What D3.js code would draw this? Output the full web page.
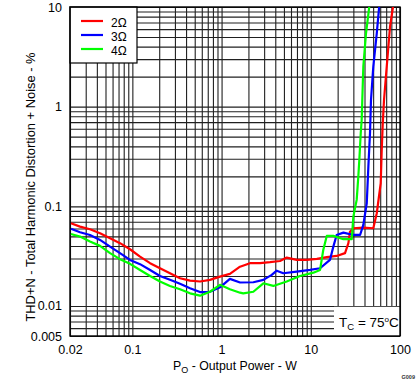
<!DOCTYPE html>
<html><head><meta charset="utf-8">
<script src="https://cdn.jsdelivr.net/npm/d3@7"></script>
<style>
body{margin:0;background:#fff;}
svg{display:block;font-family:"Liberation Sans",Arial,sans-serif;}
</style></head>
<body><svg id="c" width="419" height="382"></svg>
<script>
// ---- data ----
const xTickLabels = [0.02, 0.1, 1, 10, 100];
const yTickLabels = [0.005, 0.01, 0.1, 1, 10];
const seriesNames = ["2\u03A9", "3\u03A9", "4\u03A9"];
const seriesColors = ["#ff0000", "#0000ff", "#00ff00"];

const red_x = [0.0205,0.0259,0.0335,0.0434,0.0562,0.0727,0.0941,0.1219,0.158,0.204,0.264,0.342,0.443,0.573,0.742,0.960,1.24,1.61,2.08,2.70,3.49,4.52,5.37,6.96,9.01,11.7,15.1,19.5,24.2,26.4,27.5,30.0,38.8,50.2,54.9,60.8,62.4,64.1,66.2,71.0,77.3,83.0,84.5];
const red_y = [0.0677,0.0626,0.0589,0.0537,0.0479,0.0427,0.0371,0.0313,0.0269,0.0239,0.0213,0.0190,0.0180,0.0176,0.0183,0.0197,0.0210,0.0248,0.0269,0.0269,0.0275,0.0283,0.0306,0.0290,0.0290,0.0297,0.0309,0.0318,0.0339,0.0427,0.0557,0.0603,0.0611,0.0603,0.0852,0.1705,0.368,0.682,1.167,2.52,6.34,9.7,11];

const blue_x = [0.0205,0.0259,0.0335,0.0434,0.0562,0.0727,0.0941,0.1219,0.158,0.204,0.264,0.342,0.443,0.573,0.742,0.960,1.24,1.61,2.27,2.94,3.65,4.15,4.92,6.96,9.81,12.7,16.4,17.9,19.5,23.2,30.0,35.7,38.8,42.4,44.2,46.1,47.3,50.2,54.9,58.2,59];
const blue_y = [0.0597,0.0550,0.0516,0.0460,0.0394,0.0339,0.0290,0.0263,0.0230,0.0200,0.0183,0.0167,0.0151,0.0138,0.0139,0.0154,0.0187,0.0172,0.0173,0.0183,0.0205,0.0226,0.0213,0.0221,0.0230,0.0239,0.0290,0.0394,0.0516,0.0545,0.0516,0.0516,0.0651,0.1074,0.250,0.541,1.167,2.52,5.45,9.7,11];

const green_x = [0.0205,0.0259,0.0335,0.0434,0.0562,0.0727,0.0941,0.1219,0.158,0.204,0.264,0.342,0.443,0.573,0.742,0.960,1.24,1.61,1.75,2.27,2.94,3.80,5.37,7.57,10.7,12.7,13.8,15.1,17.9,23.2,28.8,30.0,32.7,34.1,35.0,36.3,37.2,38.8,41.6,45.0,45.8];
const green_y = [0.0528,0.0497,0.0443,0.0401,0.0339,0.0295,0.0265,0.0230,0.0200,0.0176,0.0159,0.0147,0.0134,0.0127,0.0139,0.0163,0.0147,0.0136,0.0134,0.0139,0.0169,0.0159,0.0176,0.0200,0.0216,0.0230,0.0365,0.0505,0.0505,0.0468,0.0468,0.0788,0.116,0.199,0.292,0.541,0.735,2.52,5.45,9.7,11];

const seriesX = [red_x, blue_x, green_x];
const seriesY = [red_y, blue_y, green_y];

// ---- layout ----
const L = 70, R = 400, T = 7, B = 336;
const svg = d3.select("#c");
const x = d3.scaleLog().domain([0.02, 100]).range([L, R]);
const y = d3.scaleLog().domain([0.005, 10]).range([B, T]);

function gridVals(lo, hi) {
  const out = [];
  for (let e = -3; e <= 2; e++) for (let k = 1; k <= 9; k++) {
    const v = +(k * Math.pow(10, e)).toPrecision(3);
    if (v >= lo * 0.999 && v <= hi * 1.001) out.push(v);
  }
  return out;
}
const xGrid = gridVals(0.02, 100);
const yGrid = gridVals(0.005, 10);

const gridColor = "#202020";
const gx = svg.append("g").attr("transform", `translate(0,${B})`)
  .call(d3.axisBottom(x).tickValues(xGrid).tickSize(-(B - T)).tickFormat(""));
gx.select(".domain").remove();
gx.selectAll(".tick line").attr("stroke", gridColor).attr("stroke-width", 1.1);
const gy = svg.append("g").attr("transform", `translate(${L},0)`)
  .call(d3.axisLeft(y).tickValues(yGrid).tickSize(-(R - L)).tickFormat(""));
gy.select(".domain").remove();
gy.selectAll(".tick line").attr("stroke", gridColor).attr("stroke-width", 1.1);

// annotation box (covers grid below 0.01 on the right)
svg.append("rect").attr("x", 334).attr("y", y(0.01) + 0.8)
  .attr("width", R - 334).attr("height", B - y(0.01) - 0.8).attr("fill", "#fff");

// legend box
svg.append("rect").attr("x", L).attr("y", T).attr("width", 67).attr("height", 56)
  .attr("fill", "#fff").attr("stroke", "#000").attr("stroke-width", 1.2);

// plot border
svg.append("rect").attr("x", L).attr("y", T).attr("width", R - L).attr("height", B - T)
  .attr("fill", "none").attr("stroke", "#000").attr("stroke-width", 1.4);

// curves
svg.append("defs").append("clipPath").attr("id", "clip")
  .append("rect").attr("x", L).attr("y", T).attr("width", R - L).attr("height", B - T);
const line = d3.line().x(d => x(d[0])).y(d => y(d[1]));
seriesX.forEach((xs, i) => {
  const pts = xs.map((v, j) => [v, seriesY[i][j]]);
  svg.append("path").datum(pts).attr("d", line)
    .attr("fill", "none").attr("stroke", seriesColors[i]).attr("stroke-width", 2.2)
    .attr("stroke-linejoin", "round").attr("clip-path", "url(#clip)");
});

// legend entries
const legY = [21, 35, 49];
seriesNames.forEach((n, i) => {
  svg.append("line").attr("x1", 81).attr("x2", 103).attr("y1", legY[i]).attr("y2", legY[i])
    .attr("stroke", seriesColors[i]).attr("stroke-width", 2.2);
  svg.append("text").attr("x", 111).attr("y", legY[i] + 5.5).attr("font-size", 12)
    .text(n);
});

// tick labels
const fmt = v => String(v);
const ax = svg.append("g").attr("transform", `translate(0,${B})`)
  .call(d3.axisBottom(x).tickValues(xTickLabels).tickSize(0).tickPadding(9).tickFormat(fmt));
ax.select(".domain").remove();
ax.selectAll("text").attr("font-size", 12.5).attr("fill", "#000")
  .attr("font-family", "Liberation Sans, Arial, sans-serif");
const ay = svg.append("g").attr("transform", `translate(${L},0)`)
  .call(d3.axisLeft(y).tickValues(yTickLabels).tickSize(0).tickPadding(8).tickFormat(fmt));
ay.select(".domain").remove();
ay.selectAll("text").attr("font-size", 12.5).attr("fill", "#000")
  .attr("font-family", "Liberation Sans, Arial, sans-serif");

// x title
const xt = svg.append("text").attr("x", 235).attr("y", 370).attr("text-anchor", "middle")
  .attr("font-size", 12.3);
xt.append("tspan").text("P");
xt.append("tspan").attr("font-size", 9).attr("dy", 3).text("O");
xt.append("tspan").attr("dy", -3).text(" - Output Power - W");

// y title
svg.append("text").attr("transform", `translate(35,187) rotate(-90)`)
  .attr("text-anchor", "middle").attr("font-size", 12.9)
  .text("THD+N - Total Harmonic Distortion + Noise - %");

// annotation
const an = svg.append("text").attr("x", 339).attr("y", 327).attr("font-size", 13.5);
an.append("tspan").text("T");
an.append("tspan").attr("font-size", 9.5).attr("dy", 3).text("C");
an.append("tspan").attr("dy", -3).text(" = 75");
an.append("tspan").attr("font-size", 8).attr("dy", -5).text("o");
an.append("tspan").attr("dy", 5).text("C");

// figure id
svg.append("text").attr("x", 415).attr("y", 379).attr("text-anchor", "end")
  .attr("font-size", 5.5).attr("font-weight", "bold").attr("fill", "#333").text("G009");
</script></body></html>
